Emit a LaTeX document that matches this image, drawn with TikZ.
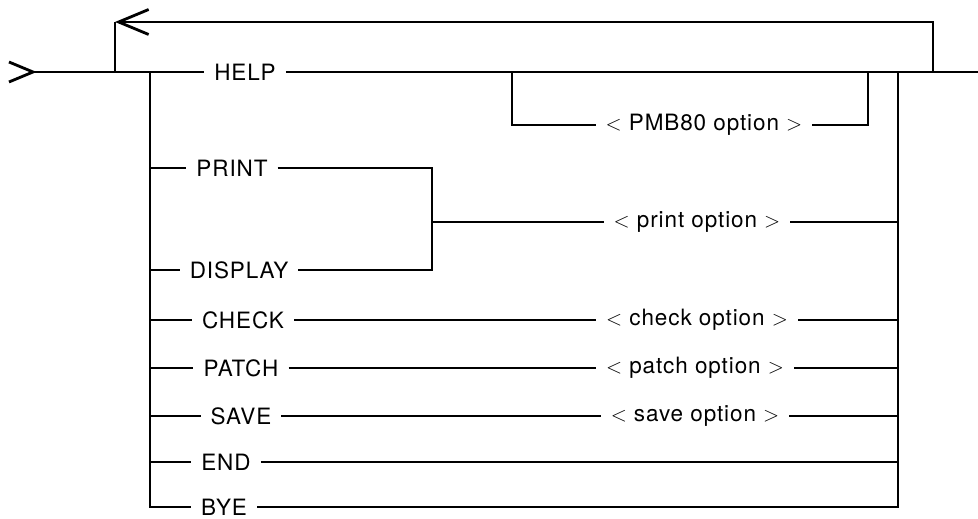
\documentclass[tikz,border=0pt]{standalone}
\usepackage{fontspec}
\setmainfont{TeX Gyre Heros}[LetterSpace=4]
\usetikzlibrary{arrows.meta}
\begin{document}
\begin{tikzpicture}[
  x=0.02cm, y=-0.02cm,
  line width=1.6pt,
  font=\fontsize{12.8}{14}\selectfont,
  kw/.style={inner sep=5pt},
  opt/.style={inner sep=5pt},
  back/.style={-{Straight Barb[length=6mm,width=5mm]}},
]
\useasboundingbox (0,0) rectangle (978,519);
\node[kw] (help) at (245,72) {HELP};
\node[kw] (print) at (232,168) {PRINT};
\node[kw] (display) at (239,270) {DISPLAY};
\node[kw] (check) at (243,320) {CHECK};
\node[kw] (patch) at (241,368) {PATCH};
\node[kw] (save) at (241,416) {SAVE};
\node[kw] (end) at (226,462) {END};
\node[kw] (bye) at (224,507) {BYE};
\node[opt] (pmb) at (704,125) {$<$ PMB80 option $>$};
\node[opt] (prtopt) at (697,222) {$<$ print option $>$};
\node[opt] (chkopt) at (697,320) {$<$ check option $>$};
\node[opt] (patopt) at (695,368) {$<$ patch option $>$};
\node[opt] (savopt) at (695,416) {$<$ save option $>$};
\coordinate (in) at (33,72);
\coordinate (lt) at (150,72);
\coordinate (lb) at (150,507);
\coordinate (rt) at (898,72);
\coordinate (rb) at (898,507);
\coordinate (loopL) at (115,72);
\coordinate (loopR) at (933,72);
\coordinate (top) at (115,22);
\coordinate (out) at (978,72);
\coordinate (pmbL) at (512,72);
\coordinate (pmbR) at (868,72);
\coordinate (pj) at (432,222);
\draw (in) ++(-24,-10) -- (in) -- ++(-24,10);
\draw (in) -- (help);
\draw (help) -- (out);
\draw (loopL) -- (top);
\draw[back] (loopR) |- (top);
\draw (pmbL) |- (pmb);
\draw (pmb) -| (pmbR);
\draw (lt) -- (lb) -- (bye);
\foreach \n in {print,display,check,patch,save,end}
  \draw (lt |- \n) -- (\n);
\draw (print) -| (pj);
\draw (display) -| (pj);
\draw (pj) -- (prtopt);
\foreach \k/\o in {check/chkopt,patch/patopt,save/savopt}
  \draw (\k) -- (\o);
\draw (end) -- (rt |- end);
\draw (bye) -- (rb) -- (rt);
\foreach \o in {prtopt,chkopt,patopt,savopt}
  \draw (\o) -- (rt |- \o);
\end{tikzpicture}
\end{document}
